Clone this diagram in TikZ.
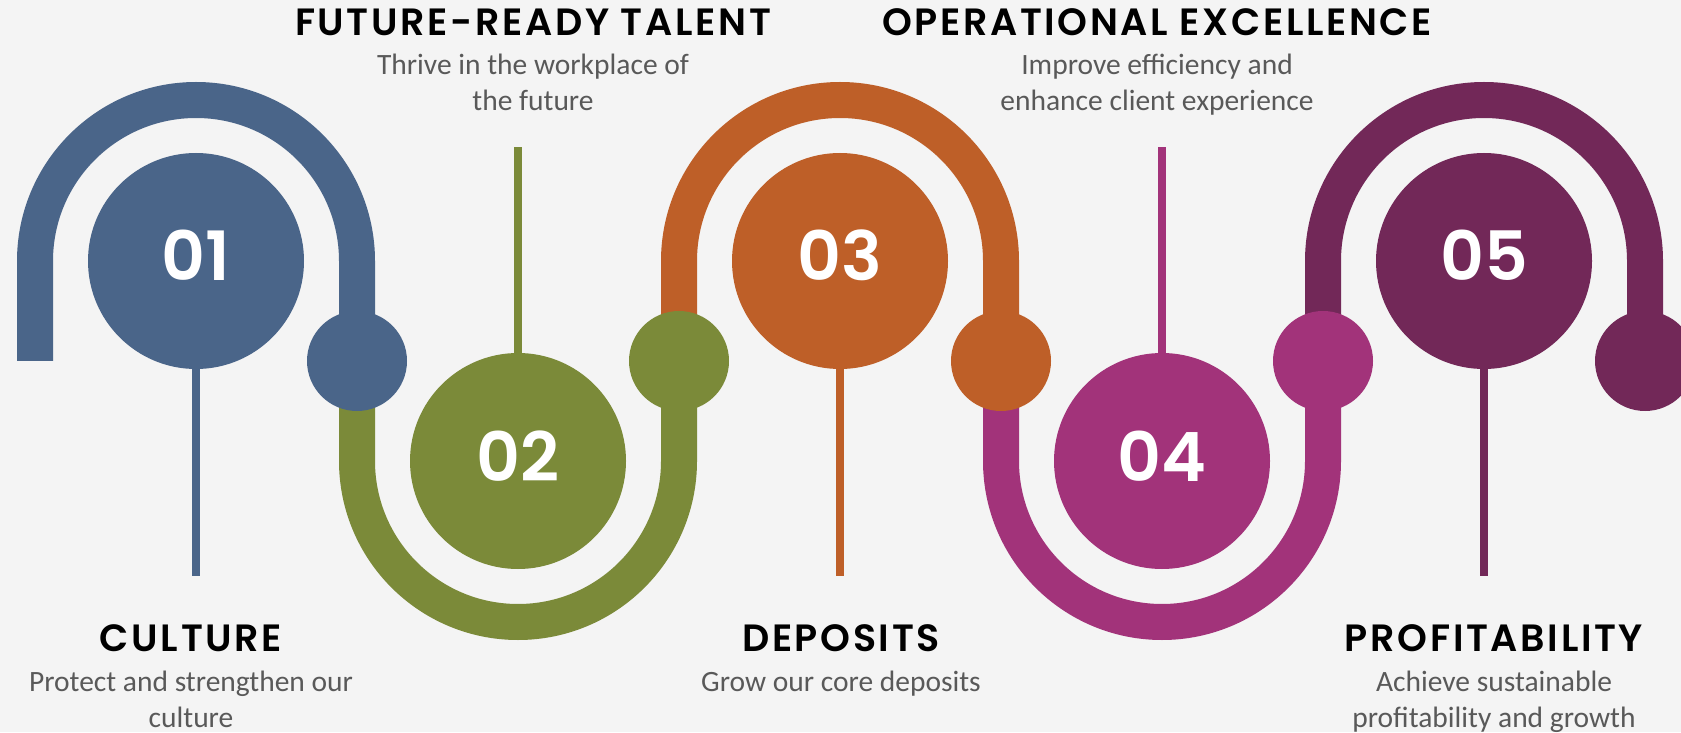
\documentclass[tikz,border=0pt]{standalone}
\usepackage{fontspec}
\setmainfont{Carlito}
\newfontfamily\popfont{Poppins SemiBold}
\usetikzlibrary{positioning}

\definecolor{bgcol}{HTML}{F4F4F4}
\definecolor{bluecol}{HTML}{4A6589}
\definecolor{greencol}{HTML}{7B8A39}
\definecolor{orangecol}{HTML}{BE5F28}
\definecolor{pinkcol}{HTML}{A2337A}
\definecolor{plumcol}{HTML}{722858}
\definecolor{desccol}{HTML}{595959}

\tikzset{
  band/.style={line width=36pt},
  stem/.style={line width=8pt},
  bigdot/.style={shape=circle, minimum size=216pt, inner sep=0pt, text=white,
    text height=48pt, text depth=8pt,
    font=\popfont\fontsize{68}{68}\selectfont},
  joint/.style={shape=circle, minimum size=100pt, inner sep=0pt},
  head/.style={anchor=base, inner sep=0pt,
    font=\popfont\fontsize{38}{38}\selectfont\addfontfeature{LetterSpace=7}},
  desc/.style={anchor=north, inner sep=0pt, align=center, text=desccol,
    font=\fontsize{29.5}{36}\selectfont}
}

\begin{document}
\begin{tikzpicture}[x=1pt, y=1pt]
     \fill[bgcol] (0,0) rectangle (1681,732);
     \useasboundingbox (0,0) rectangle (1681,732);

     \path (35, 371) coordinate (s0)
           (357, 371) coordinate (j1p)
           (679, 371) coordinate (j2p)
           (1001, 371) coordinate (j3p)
           (1323, 371) coordinate (j4p)
           (1645, 371) coordinate (j5p)
           (196, 156) coordinate (e1)
           (518, 585) coordinate (e2)
           (840, 156) coordinate (e3)
           (1162, 585) coordinate (e4)
           (1484, 156) coordinate (e5)
     ;

     \draw[band, bluecol] (s0) -- ++(0,100) arc[start angle=180, end angle=0, radius=161] -- (j1p);
     \draw[band, greencol] (j1p) -- ++(0,-100) arc[start angle=180, end angle=360, radius=161] -- (j2p);
     \draw[band, orangecol] (j2p) -- ++(0,100) arc[start angle=180, end angle=0, radius=161] -- (j3p);
     \draw[band, pinkcol] (j3p) -- ++(0,-100) arc[start angle=180, end angle=360, radius=161] -- (j4p);
     \draw[band, plumcol] (j4p) -- ++(0,100) arc[start angle=180, end angle=0, radius=161] -- (j5p);

     \path (196, 471) node (c1) [bigdot, fill=bluecol] {01}
           (518, 271) node (c2) [bigdot, fill=greencol] {02}
           (840, 471) node (c3) [bigdot, fill=orangecol] {03}
           (1162, 271) node (c4) [bigdot, fill=pinkcol] {04}
           (1484, 471) node (c5) [bigdot, fill=plumcol] {05}
     ;

     \draw[stem, bluecol] (c1.south) -- (e1);
     \draw[stem, greencol] (c2.north) -- (e2);
     \draw[stem, orangecol] (c3.south) -- (e3);
     \draw[stem, pinkcol] (c4.north) -- (e4);
     \draw[stem, plumcol] (c5.south) -- (e5);

     \path (j1p) node (j1) [joint, fill=bluecol] {}
           (j2p) node (j2) [joint, fill=greencol] {}
           (j3p) node (j3) [joint, fill=orangecol] {}
           (j4p) node (j4) [joint, fill=pinkcol] {}
           (j5p) node (j5) [joint, fill=plumcol] {}
     ;

     \path (191, 81) node (t1) [head] {CULTURE}
           (533, 696) node (t2) [head] {FUTURE-READY TALENT}
           (841, 81) node (t3) [head] {DEPOSITS}
           (1157, 696) node (t4) [head] {OPERATIONAL EXCELLENCE}
           (1494, 81) node (t5) [head] {PROFITABILITY}
     ;

     \node (d1) [desc, below=19pt of t1] {Protect and strengthen our\\culture};
     \node (d2) [desc, below=17pt of t2] {Thrive in the workplace of\\the future};
     \node (d3) [desc, below=19pt of t3] {Grow our core deposits};
     \node (d4) [desc, below=17pt of t4] {Improve efficiency and\\enhance client experience};
     \node (d5) [desc, below=19pt of t5] {Achieve sustainable\\profitability and growth};
\end{tikzpicture}
\end{document}
